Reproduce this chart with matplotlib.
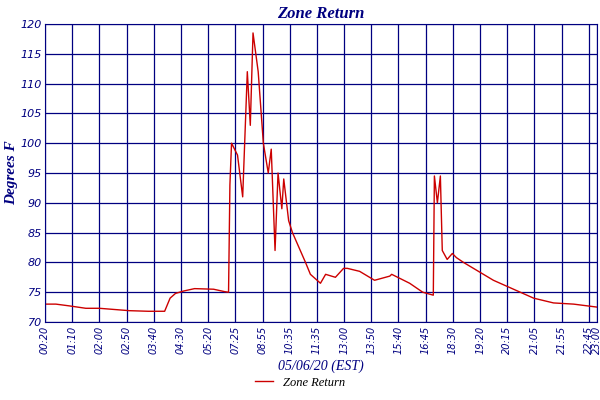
import matplotlib
matplotlib.use("Agg")
import matplotlib.pyplot as plt

tick_labels = ["00:20","01:10","02:00","02:50","03:40","04:30","05:20","07:25","08:55","10:35",
               "11:35","13:00","13:50","15:40","16:45","18:30","19:20","20:15","21:05","21:55","22:45","23:00"]
tick_pos = [i * 10 for i in range(21)] + [203]

# sample position (in tick-interval tenths) and temperature
x_vals = [0, 4, 9, 15, 20, 31, 38, 42, 44, 46, 48, 51, 55, 62, 66, 67.5, 68, 68.6, 70.8, 72.7, 74.4, 75.5, 76.5, 78.4, 80.3, 82.1, 83.2,
          84.6, 85.7, 87.1, 87.8, 89.6, 91, 95.8, 97.6, 101.3, 103.2, 106.8, 109.8, 111.2, 115.7, 121.2, 126.8, 127.5, 134.1, 138.9,
          142.8, 143.2, 144.3, 145.4, 146.1, 147.9, 149.8, 151.3, 153.9, 159.4, 164.9, 172.3, 179.7, 187, 194.4, 203]
temps = [73, 73, 72.7, 72.3, 72.3, 71.9, 71.8, 71.8, 71.8, 74.0, 74.8, 75.2, 75.6, 75.5, 75.1, 75.0, 93, 100, 98, 91, 112, 103, 118.5, 112,
         100, 95, 99, 82, 95, 89, 94, 87, 85, 80, 78, 76.5, 78, 77.5, 79, 79, 78.5, 77, 77.7, 78, 76.5, 75, 74.5,
         94.5, 90, 94.5, 82, 80.5, 81.5, 80.8, 80, 78.5, 77, 75.5, 74, 73.2, 73, 72.5]

navy = "#000080"
fig = plt.figure(figsize=(6, 4), dpi=100)
ax = fig.add_axes([0.075, 0.195, 0.92, 0.745])
ax.plot(x_vals, temps, color="#cc0000", lw=1, label="Zone Return")
ax.set_xlim(0, 203)
ax.set_ylim(70, 120)
ax.set_yticks(range(70, 121, 5))
ax.set_xticks(tick_pos)
ax.set_xticklabels(tick_labels, rotation=90, fontsize=7, color=navy, style="italic")
ax.tick_params(axis="y", labelsize=8, colors=navy, length=0, pad=2)
ax.tick_params(axis="x", length=0, colors=navy, pad=3)
for lab in ax.get_yticklabels():
    lab.set_fontstyle("italic")
ax.grid(True, color=navy, lw=0.9)
for s in ax.spines.values():
    s.set_color(navy)
ax.set_title("Zone Return", fontsize=12, color=navy, family="Liberation Serif", style="italic", fontweight="bold", pad=4)
ax.set_ylabel("Degrees F", fontsize=11, color=navy, family="Liberation Serif", style="italic", fontweight="bold", labelpad=2)
ax.set_xlabel("05/06/20 (EST)", fontsize=10, color=navy, family="Liberation Serif", style="italic", labelpad=4)
fig.legend(loc="lower center", bbox_to_anchor=(0.5, 0.0), frameon=False,
           prop={"family": "Liberation Serif", "style": "italic", "size": 9}, handlelength=1.5)
fig.savefig("out.png")
